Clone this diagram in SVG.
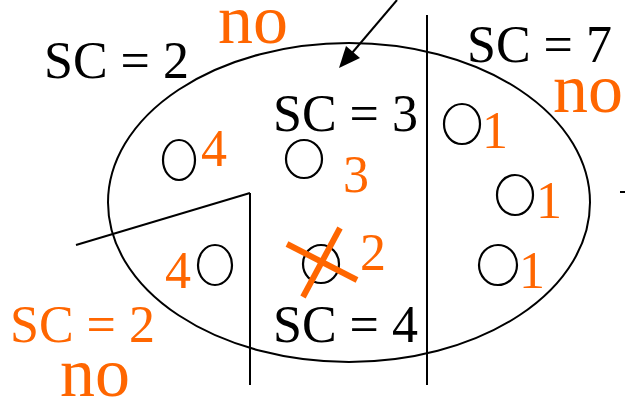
<svg xmlns="http://www.w3.org/2000/svg" width="625" height="401" viewBox="0 0 625 401">
<style>
.ln{fill:none;stroke:#000;stroke-width:2}
.pt{fill:none;stroke:#000;stroke-width:2.2}
text{font-family:"Liberation Serif","Times New Roman",serif}
.k{fill:#000;font-size:52px}
.o{fill:#FF6600;font-size:52px}
.no{fill:#FF6600;font-size:70px}
.x{stroke:#FF6600;stroke-width:6;fill:none}
</style>
<rect width="625" height="401" fill="#fff"/>
<g id="region">
<ellipse class="ln" cx="349" cy="202.5" rx="241" ry="159.5"/>
</g>
<g id="connectors">
<line class="ln" x1="427" y1="15" x2="427" y2="385"/>
<line class="ln" x1="250" y1="193" x2="250" y2="385"/>
<line class="ln" x1="76" y1="245" x2="250" y2="193"/>
<line class="ln" x1="620" y1="192" x2="625" y2="192"/>
<line class="ln" x1="397" y1="0" x2="352" y2="53"/>
<path d="M339,68 L346,46 L360,58 z" fill="#000"/>
</g>
<g id="labels">
<text class="k" x="44" y="78">SC = 2</text>
<text class="no" x="218" y="43">no</text>
<text class="k" x="467" y="62">SC = 7</text>
<text class="no" x="553" y="112">no</text>
<text class="k" x="273" y="131">SC = 3</text>
<text class="k" x="273" y="342">SC = 4</text>
<text class="o" x="10" y="342">SC = 2</text>
<text class="no" x="60" y="396">no</text>
</g>
<g id="n1"><ellipse class="pt" cx="179" cy="160" rx="16" ry="20"/><text class="o" x="201" y="166">4</text></g>
<g id="n2"><ellipse class="pt" cx="304" cy="159" rx="18" ry="19"/><text class="o" x="343" y="192">3</text></g>
<g id="n3"><ellipse class="pt" cx="462" cy="124" rx="18" ry="20"/><text class="o" x="482" y="148">1</text></g>
<g id="n4"><ellipse class="pt" cx="515" cy="195" rx="18" ry="20"/><text class="o" x="536" y="218">1</text></g>
<g id="n5"><ellipse class="pt" cx="498" cy="265" rx="19" ry="20"/><text class="o" x="519" y="288">1</text></g>
<g id="n6"><ellipse class="pt" cx="215" cy="265" rx="17" ry="20"/><text class="o" x="165" y="288">4</text></g>
<g id="n7"><ellipse class="pt" cx="321" cy="264" rx="18" ry="19"/>
<line class="x" x1="287" y1="244" x2="357" y2="280"/>
<line class="x" x1="340" y1="228" x2="303" y2="297"/>
<text class="o" x="360" y="270">2</text></g>
</svg>
